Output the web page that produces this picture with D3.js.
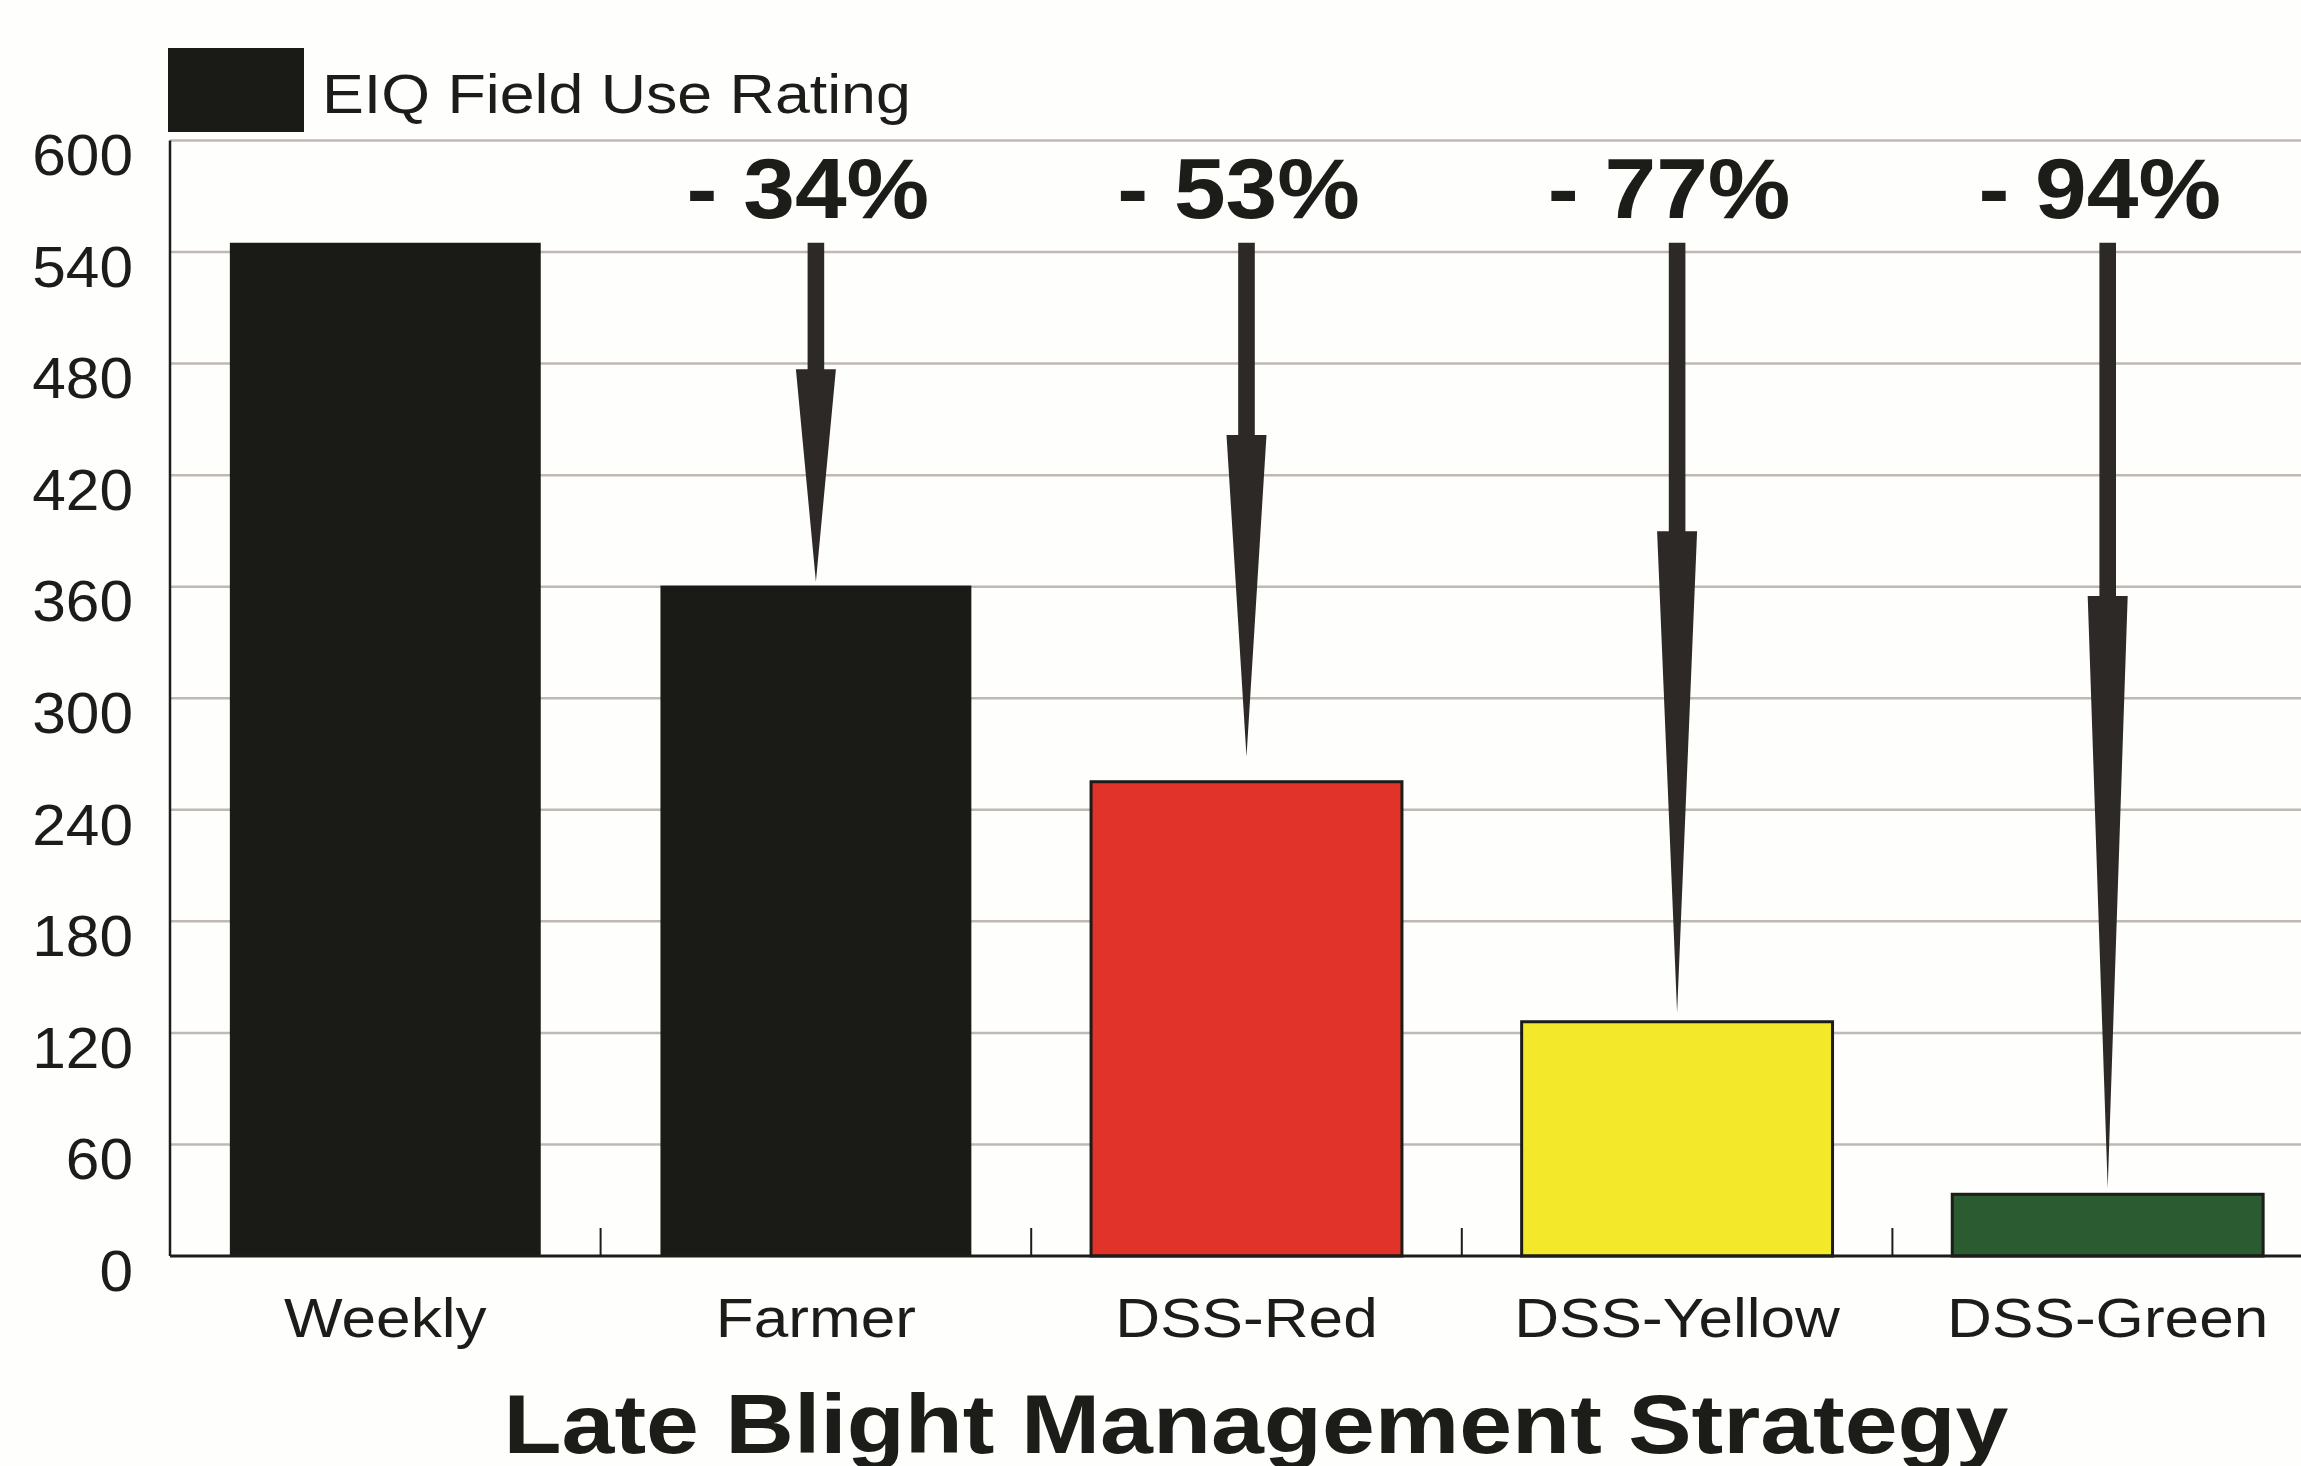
<!DOCTYPE html>
<html>
<head>
<meta charset="utf-8">
<script src="https://cdn.jsdelivr.net/npm/d3@7"></script>
<style>
  html, body { margin: 0; padding: 0; background: #fefefc; }
  svg { display: block; font-family: "Liberation Sans", Arial, sans-serif; }
</style>
</head>
<body>
<svg id="chart" width="2301" height="1466"></svg>
<script>
// data
const strategies = ["Weekly", "Farmer", "DSS-Red", "DSS-Yellow", "DSS-Green"];
const eiqValues = [545, 360.6, 255.1, 126, 33.2];
const barColors = ["#1a1a16", "#1a1a16", "#e2332b", "#f4e82a", "#2b5c31"];
const reductionLabels = ["- 34%", "- 53%", "- 77%", "- 94%"];
const arrowHeadAt = [477, 441.6, 389.8, 355];   // where the tapered head starts
const arrowTipAt = [362.7, 268.6, 130.9, 36.4];
const yTicks = [0, 60, 120, 180, 240, 300, 360, 420, 480, 540, 600];
const legendLabel = "EIQ Field Use Rating";
const xTitle = "Late Blight Management Strategy";

const svg = d3.select("#chart");
const width = 2301, height = 1466;
const plotLeft = 170, step = 430.6, plotTop = 140.5, plotBottom = 1256;
const ink = "#1c1c19";

svg.append("rect").attr("width", width).attr("height", height).attr("fill", "#fefefc");

const x = d3.scaleBand().domain(strategies)
    .range([plotLeft, plotLeft + step * strategies.length])
    .paddingInner(0.278).paddingOuter(0.139);
const y = d3.scaleLinear().domain([0, 600]).range([plotBottom, plotTop]);

// gridlines
svg.append("g").selectAll("line")
    .data(yTicks.filter(d => d > 0))
    .join("line")
    .attr("x1", plotLeft).attr("x2", width)
    .attr("y1", d => y(d)).attr("y2", d => y(d))
    .attr("stroke", "#bfb8b3").attr("stroke-width", 2.5);

// y axis labels
const yAxis = svg.append("g").attr("transform", `translate(${plotLeft},0)`)
    .call(d3.axisLeft(y).tickValues(yTicks).tickSize(0).tickPadding(37 / 1.06));
yAxis.select(".domain").remove();
yAxis.selectAll("text")
    .attr("fill", ink).style("font-size", "57px")
    .attr("dy", "0.6em")
    .attr("transform", "scale(1.06,1)");

// bars
svg.append("g").selectAll("rect")
    .data(strategies)
    .join("rect")
    .attr("x", d => x(d))
    .attr("y", (d, i) => y(eiqValues[i]))
    .attr("width", x.bandwidth())
    .attr("height", (d, i) => y(0) - y(eiqValues[i]))
    .attr("fill", (d, i) => barColors[i])
    .attr("stroke", (d, i) => i < 2 ? "none" : ink)
    .attr("stroke-width", 3);

// axis lines and in-between ticks
svg.append("line").attr("x1", plotLeft).attr("x2", plotLeft).attr("y1", y(600)).attr("y2", y(0))
    .attr("stroke", ink).attr("stroke-width", 2.5);
svg.append("line").attr("x1", plotLeft).attr("x2", width).attr("y1", y(0)).attr("y2", y(0))
    .attr("stroke", ink).attr("stroke-width", 3);
svg.append("g").selectAll("line")
    .data(strategies.slice(1))
    .join("line")
    .attr("x1", d => x(d) - x.step() * x.paddingInner() / 2)
    .attr("x2", d => x(d) - x.step() * x.paddingInner() / 2)
    .attr("y1", y(0)).attr("y2", y(0) - 28)
    .attr("stroke", ink).attr("stroke-width", 2);

// category labels
const xAxis = svg.append("g").attr("transform", `translate(0,${y(0)})`)
    .call(d3.axisBottom(x).tickSize(0).tickPadding(42));
xAxis.select(".domain").remove();
xAxis.selectAll("text")
    .attr("fill", ink).style("font-size", "55px")
    .attr("transform", "scale(1.13,1)");

// reduction arrows
const shaftW = 8.3, headW = 20;
const arrows = strategies.slice(1).map((s, i) => ({
    cx: x(s) + x.bandwidth() / 2,
    start: eiqValues[0], head: arrowHeadAt[i], tip: arrowTipAt[i], label: reductionLabels[i]
}));
svg.append("g").selectAll("path")
    .data(arrows)
    .join("path")
    .attr("d", d => {
        const p = d3.path();
        p.moveTo(d.cx - shaftW, y(d.start));
        p.lineTo(d.cx + shaftW, y(d.start));
        p.lineTo(d.cx + shaftW, y(d.head));
        p.lineTo(d.cx + headW, y(d.head));
        p.lineTo(d.cx, y(d.tip));
        p.lineTo(d.cx - headW, y(d.head));
        p.lineTo(d.cx - shaftW, y(d.head));
        p.closePath();
        return p.toString();
    })
    .attr("fill", "#2d2926");

svg.append("g").selectAll("text")
    .data(arrows)
    .join("text")
    .attr("transform", d => `translate(${d.cx - 8},218) scale(1.08,1)`)
    .attr("text-anchor", "middle")
    .attr("fill", ink)
    .style("font-size", "86px").style("font-weight", "bold")
    .text(d => d.label);

// legend
svg.append("rect").attr("x", 168).attr("y", 48).attr("width", 136).attr("height", 84).attr("fill", "#1a1a16");
svg.append("text")
    .attr("transform", "translate(322,113) scale(1.14,1)")
    .attr("fill", ink).style("font-size", "55px")
    .text(legendLabel);

// axis title
svg.append("text")
    .attr("transform", "translate(1256,1453) scale(1.145,1)")
    .attr("text-anchor", "middle")
    .attr("fill", ink).style("font-size", "83px").style("font-weight", "bold")
    .text(xTitle);
</script>
</body>
</html>
